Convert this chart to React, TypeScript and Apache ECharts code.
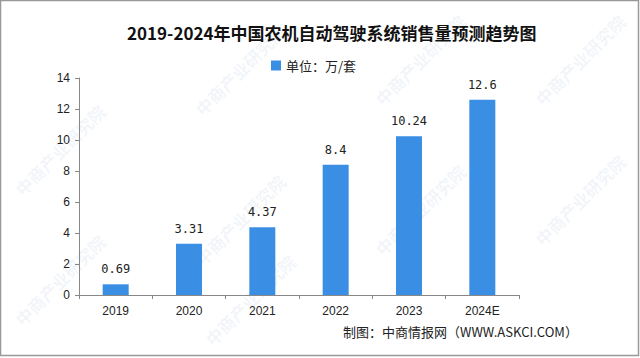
import React, { useEffect, useRef } from "react";
import * as echarts from "echarts";

const categories = ["2019", "2020", "2021", "2022", "2023", "2024E"];
const sales = [0.69, 3.31, 4.37, 8.4, 10.24, 12.6];
const seriesName = "单位：万/套";
const titleText = "2019-2024年中国农机自动驾驶系统销售量预测趋势图";
const sourceText = "制图：中商情报网（WWW.ASKCI.COM）";
const watermarkText = "中商产业研究院";

const watermarkPositions: [number, number][] = [
  [240, 70], [420, 60], [580, 60], [240, 220], [420, 210], [580, 200], [60, 150], [60, 280], [250, 300],
];

export default function App() {
  const ref = useRef<HTMLDivElement>(null);
  useEffect(() => {
    if (!ref.current) return;
    const chart = echarts.init(ref.current, null, { renderer: "svg" });
    const watermarks = watermarkPositions.map(([x, y]) => ({
      type: "text",
      x,
      y,
      rotation: Math.PI / 4,
      silent: true,
      z: 0,
      style: {
        text: watermarkText,
        fill: "rgba(150,180,210,0.13)",
        font: "bold 17px 'Noto Sans CJK SC'",
        textAlign: "center",
        textVerticalAlign: "middle",
      },
    }));
    chart.setOption({
      animation: false,
      backgroundColor: "#ffffff",
      title: {
        text: titleText,
        left: 122,
        top: 19,
        textStyle: {
          fontSize: 17,
          fontWeight: "bold",
          color: "#111",
          fontFamily: "'Noto Sans CJK SC', sans-serif",
        },
      },
      legend: {
        data: [seriesName],
        top: 54,
        left: 266,
        itemWidth: 10,
        itemHeight: 10,
        itemGap: 4,
        textStyle: { fontSize: 13, color: "#222", fontFamily: "'Noto Sans CJK SC', sans-serif" },
        icon: "rect",
      },
      grid: { left: 79, right: 121, top: 78, bottom: 63 },
      xAxis: {
        type: "category",
        data: categories,
        axisLine: { lineStyle: { color: "#888", width: 1 } },
        axisTick: { show: true, alignWithLabel: false, length: 4, lineStyle: { color: "#888" } },
        axisLabel: { color: "#222", fontSize: 12, margin: 10, fontFamily: "'Liberation Sans', sans-serif" },
      },
      yAxis: {
        type: "value",
        min: 0,
        max: 14,
        interval: 2,
        splitLine: { show: false },
        axisLine: { show: true, lineStyle: { color: "#888", width: 1 } },
        axisTick: { show: true, length: 4, lineStyle: { color: "#888" } },
        axisLabel: { color: "#222", fontSize: 12, margin: 9, fontFamily: "'Liberation Sans', sans-serif" },
      },
      series: [
        {
          name: seriesName,
          type: "bar",
          data: sales,
          barWidth: 26,
          itemStyle: { color: "#3a8fe5" },
          label: {
            show: true,
            position: "top",
            distance: 9,
            color: "#222",
            fontSize: 12,
            fontFamily: "'DejaVu Sans Mono', monospace",
          },
        },
      ],
      graphic: [
        ...watermarks,
        {
          type: "rect",
          shape: { x: 0.5, y: 0.5, width: 638, height: 355 },
          style: { fill: "none", stroke: "#999", lineWidth: 1.5 },
          silent: true,
        },
        {
          type: "text",
          left: 343,
          top: 325,
          style: {
            text: sourceText,
            fill: "#222",
            font: "13px 'Noto Sans CJK SC', sans-serif",
          },
        },
      ],
    });
    return () => chart.dispose();
  }, []);
  return (
    <div
      ref={ref}
      style={{ position: "absolute", left: 0, top: 0, width: 640, height: 358 }}
    />
  );
}
